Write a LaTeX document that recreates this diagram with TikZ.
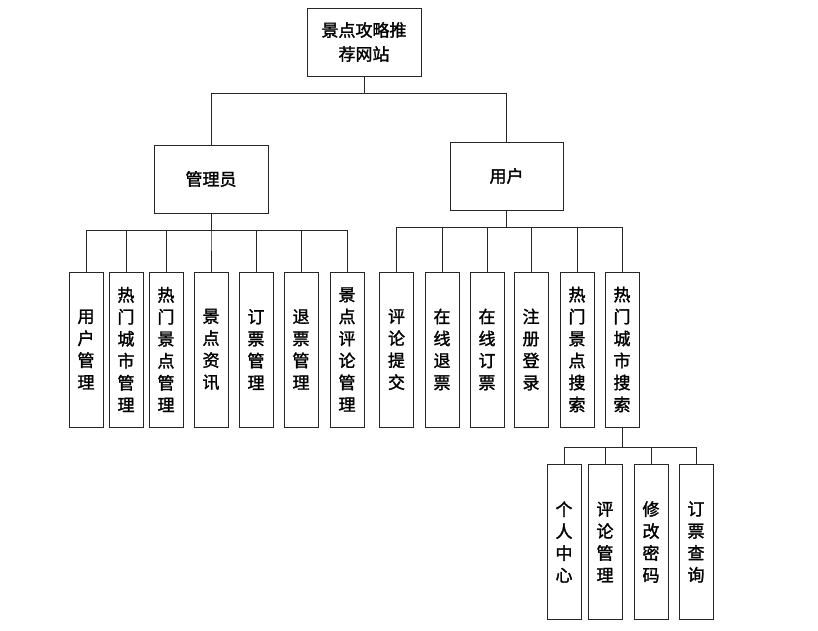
\documentclass[tikz,border=0pt]{standalone}
\usepackage{fontspec}
\usepackage{tikz}
\newfontfamily\cjk[FakeBold=1.6]{Noto Sans CJK SC}
\definecolor{treeline}{HTML}{262626}
\tikzset{
every picture/.style={line cap=rect,line join=miter},
tree box/.style={
  draw=treeline,
  line width=1pt,
  align=center,
  inner sep=0pt,
  font=\cjk\fontsize{17}{24}\selectfont
},
top box/.style={tree box, minimum width=114pt, minimum height=68pt},
leaf box/.style={tree box, minimum width=34pt, minimum height=155pt, font=\cjk\fontsize{17}{22}\selectfont},
tree link/.style={draw=treeline, line width=1pt}
}
\begin{document}
\begin{tikzpicture}[x=1pt,y=-1pt]
\useasboundingbox (0,0) rectangle (818,630);
\node[top box] (site) at (364,42) {景点攻略推\\荐网站};
\node[top box] (admin) at (211,179) {管理员};
\node[top box, minimum width=113pt] (user) at (506.5,176) {用户};
\draw[tree link] (site.south) -- ++(0,17) -| (admin.north);
\draw[tree link] (site.south) -- ++(0,17) -| (user.north);
\foreach \i/\x/\t in {1/86/{用\\户\\管\\理},2/126/{热\\门\\城\\市\\管\\理},3/166/{热\\门\\景\\点\\管\\理},4/211/{景\\点\\资\\讯},5/256/{订\\票\\管\\理},6/301/{退\\票\\管\\理},7/347/{景\\点\\评\\论\\管\\理}} {
\node[leaf box] (admin\i) at (\x,349.5) {\t};
\draw[tree link] (admin.south) -- ++(0,17) -| (admin\i.north);
}
\foreach \i/\x/\t in {1/396.5/{评\\论\\提\\交},2/442/{在\\线\\退\\票},3/487/{在\\线\\订\\票},4/531/{注\\册\\登\\录},5/577/{热\\门\\景\\点\\搜\\索},6/622/{热\\门\\城\\市\\搜\\索}} {
\node[leaf box] (user\i) at (\x,349.5) {\t};
\draw[tree link] (user.south) -- ++(0,17) -| (user\i.north);
}
\foreach \i/\x/\t in {1/564/{个\\人\\中\\心},2/605/{评\\论\\管\\理},3/651/{修\\改\\密\\码},4/696/{订\\票\\查\\询}} {
\node[leaf box] (city\i) at (\x,542) {\t};
\draw[tree link] (user6.south) -- ++(0,20) -| (city\i.north);
}
\end{tikzpicture}
\end{document}
